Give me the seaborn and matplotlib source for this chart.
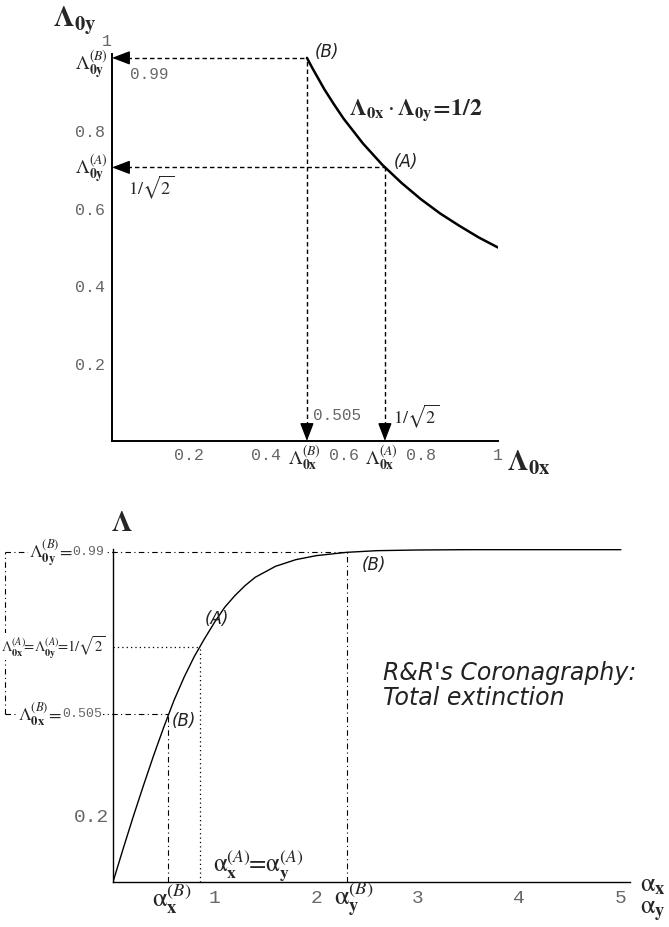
import matplotlib
matplotlib.use('Agg')
import matplotlib.pyplot as plt
import seaborn as sns
import numpy as np

# upper panel: hyperbola Lambda_0x * Lambda_0y = 1/2
lam0x = [0.505, 0.52, 0.55, 0.575, 0.6, 0.65, 0.7, 0.75, 0.8, 0.85, 0.9, 0.95, 1.0]
lam0y = [0.99, 0.962, 0.909, 0.87, 0.833, 0.769, 0.714, 0.667, 0.625, 0.588, 0.556, 0.526, 0.5]
point_A = (0.707, 0.707)
point_B = (0.505, 0.99)

# lower panel: total extinction Lambda vs alpha
alpha = [0, 0.1, 0.2, 0.3, 0.4, 0.5, 0.6, 0.7, 0.8, 0.9, 1.0, 1.1, 1.2, 1.3, 1.4,
         1.6, 1.8, 2.0, 2.3, 2.6, 3.0, 3.5, 4.0, 5.0]
lam = [0, 0.1, 0.197, 0.29, 0.38, 0.465, 0.545, 0.615, 0.677, 0.73, 0.78, 0.825, 0.86,
       0.89, 0.915, 0.948, 0.968, 0.98, 0.99, 0.995, 0.997, 0.998, 0.998, 0.998]
alpha_A = 0.858
alpha_Bx = 0.544
alpha_By = 2.30
lam_A = 0.707
lam_Bx = 0.505
lam_By = 0.99

sns.set_style('white')
plt.rcParams['mathtext.fontset'] = 'stix'
plt.rcParams['font.family'] = ['DejaVu Sans']

MONO = ['Liberation Mono', 'DejaVu Sans Mono']
SANS_IT = dict(family=['DejaVu Sans'], style='italic', color='#222222')
GRAY = '#666666'

W, H = 669, 927
fig = plt.figure(figsize=(W / 100, H / 100), dpi=100)


def px_axes(x0, x1, y0, y1):
    # axes box given in pixel coords (top-left origin)
    return fig.add_axes([x0 / W, 1 - y1 / H, (x1 - x0) / W, (y1 - y0) / H])


def style_axes(ax, lw):
    for s in ['top', 'right']:
        ax.spines[s].set_visible(False)
    for s in ['left', 'bottom']:
        ax.spines[s].set_linewidth(lw)
        ax.spines[s].set_color('black')
    ax.tick_params(which='both', direction='in', color='black', width=0.8)
    ax.grid(False)


# ---------------- upper panel ----------------
ax1 = px_axes(112, 498, 54, 441)
ax1.set_xlim(0, 1)
ax1.set_ylim(0, 1)
style_axes(ax1, 1.4)

sns.lineplot(x=lam0x, y=lam0y, ax=ax1, color='black', lw=1.8, sort=False, estimator=None)

ax1.set_xticks([0.2, 0.4, 0.6, 0.8, 1.0])
ax1.set_xticklabels(['0.2', '0.4', '0.6', '0.8', '1'])
ax1.set_yticks([0.2, 0.4, 0.6, 0.8, 1.0])
ax1.set_yticklabels(['0.2', '0.4', '0.6', '0.8', ''])
ax1.set_xticks(np.arange(0.05, 1.0, 0.05), minor=True)
ax1.set_yticks(np.arange(0.05, 1.0, 0.05), minor=True)
ax1.tick_params(which='major', length=4.5, pad=5)
ax1.tick_params(which='minor', length=2.5)
for lab in ax1.get_xticklabels() + ax1.get_yticklabels():
    lab.set_family(MONO)
    lab.set_color(GRAY)
    lab.set_fontsize(12)
ax1.text(-0.013, 1.033, '1', family=MONO, color=GRAY, fontsize=12, ha='center', va='center')

dash = (0, (3.2, 2.2))
for (px, py) in [point_B, point_A]:
    ax1.plot([0.04, px], [py, py], color='black', lw=1, ls=dash)
    ax1.plot([px, px], [0.04, py], color='black', lw=1, ls=dash)
    ax1.annotate('', xy=(0, py), xytext=(0.04, py), annotation_clip=False,
                 arrowprops=dict(arrowstyle='-|>,head_length=1.1,head_width=0.42',
                                 color='black', lw=1, shrinkA=0, shrinkB=0, mutation_scale=10))
    ax1.annotate('', xy=(px, 0), xytext=(px, 0.04), annotation_clip=False,
                 arrowprops=dict(arrowstyle='-|>,head_length=1.1,head_width=0.42',
                                 color='black', lw=1, shrinkA=0, shrinkB=0, mutation_scale=10))

kw = dict(clip_on=False)
ax1.text(-0.098, 1.088, r'$\mathbf{\Lambda_{0y}}$', fontsize=21, ha='center', va='center', **kw)
ax1.text(1.08, -0.057, r'$\mathbf{\Lambda_{0x}}$', fontsize=21, ha='center', va='center', **kw)
ax1.text(0.788, 0.855, r'$\mathbf{\Lambda_{0x}}\cdot\mathbf{\Lambda_{0y}\!=\!1/2}$', fontsize=17,
         ha='center', va='center', **kw)
ax1.text(0.558, 1.005, '(B)', fontsize=12, ha='center', va='center', **SANS_IT, **kw)
ax1.text(0.762, 0.721, '(A)', fontsize=12, ha='center', va='center', **SANS_IT, **kw)

ax1.text(-0.01, 0.972, r'$\Lambda^{\mathit{(B)}}_{\mathbf{0y}}$', fontsize=14, ha='right', va='center', **kw)
ax1.text(0.047, 0.946, '0.99', family=MONO, color=GRAY, fontsize=11.5, ha='left', va='center', **kw)
ax1.text(-0.01, 0.703, r'$\Lambda^{\mathit{(A)}}_{\mathbf{0y}}$', fontsize=14, ha='right', va='center', **kw)
ax1.text(0.041, 0.656, r'$1/\sqrt{2}$', fontsize=13, ha='left', va='center', **kw)
ax1.text(0.521, 0.067, '0.505', family=MONO, color=GRAY, fontsize=11.5, ha='left', va='center', **kw)
ax1.text(0.728, 0.065, r'$1/\sqrt{2}$', fontsize=13, ha='left', va='center', **kw)
ax1.text(0.498, -0.045, r'$\Lambda^{\mathit{(B)}}_{\mathbf{0x}}$', fontsize=14, ha='center', va='center', **kw)
ax1.text(0.697, -0.045, r'$\Lambda^{\mathit{(A)}}_{\mathbf{0x}}$', fontsize=14, ha='center', va='center', **kw)

# ---------------- lower panel ----------------
ax2 = px_axes(113, 630, 549, 882)
ax2.set_xlim(0, 5.09)
ax2.set_ylim(0, 1.0)
style_axes(ax2, 1.0)

sns.lineplot(x=alpha, y=lam, ax=ax2, color='black', lw=1.0, sort=False, estimator=None)

ax2.set_xticks([1, 2, 3, 4, 5])
ax2.set_xticklabels(['1', '2', '3', '4', '5'])
ax2.set_yticks([0.2])
ax2.set_yticklabels(['0.2'])
ax2.set_yticks(np.arange(0.05, 1.01, 0.05), minor=True)
ax2.tick_params(which='major', length=4, pad=6)
ax2.tick_params(which='minor', length=3.5)
ax2.tick_params(axis='y', which='major', pad=3)
for lab in ax2.get_xticklabels() + ax2.get_yticklabels():
    lab.set_family(MONO)
    lab.set_color(GRAY)
    lab.set_fontsize(14)

dashdot = (0, (5, 3, 1, 3))
dotted = (0, (1, 2.5))
x_left = -1.063
ax2.plot([x_left, alpha_By], [lam_By, lam_By], color='black', lw=0.8, ls=dashdot, clip_on=False)
ax2.plot([alpha_By, alpha_By], [0, lam_By], color='black', lw=0.8, ls=dashdot)
ax2.plot([x_left, alpha_Bx], [lam_Bx, lam_Bx], color='black', lw=0.8, ls=dashdot, clip_on=False)
ax2.plot([alpha_Bx, alpha_Bx], [0, lam_Bx], color='black', lw=0.8, ls=dashdot)
ax2.plot([x_left, x_left], [lam_Bx, lam_By], color='black', lw=0.8, ls=dashdot, clip_on=False)
ax2.plot([0, alpha_A], [lam_A, lam_A], color='black', lw=0.9, ls=dotted)
ax2.plot([alpha_A, alpha_A], [0, lam_A], color='black', lw=0.9, ls=dotted)

wb = dict(facecolor='white', edgecolor='none', pad=0.5)
ax2.text(0.09, 1.078, r'$\mathbf{\Lambda}$', fontsize=21, ha='center', va='center', **kw)
ax2.text(-0.40, 0.99, '0.99', family=MONO, color=GRAY, fontsize=9.5, ha='left', va='center',
         bbox=wb, **kw)
ax2.text(-0.40, 0.99, r'$\Lambda^{\mathit{(B)}}_{\mathbf{0y}}\!=$', fontsize=13, ha='right',
         va='center', bbox=wb, **kw)
ax2.text(-0.07, 0.707,
         r'$\Lambda^{\mathit{(A)}}_{\mathbf{0x}}\!\!=\!\Lambda^{\mathit{(A)}}_{\mathbf{0y}}\!\!=\!1/\sqrt{2}$',
         fontsize=10.5, ha='right', va='center', bbox=wb, **kw)
ax2.text(-0.50, 0.505, '0.505', family=MONO, color=GRAY, fontsize=9.5, ha='left', va='center',
         bbox=wb, **kw)
ax2.text(-0.50, 0.505, r'$\Lambda^{\mathit{(B)}}_{\mathbf{0x}}\!=$', fontsize=13, ha='right',
         va='center', bbox=wb, **kw)

ax2.text(2.45, 0.952, '(B)', fontsize=12, ha='left', va='center', **SANS_IT, **kw)
ax2.text(0.90, 0.79, '(A)', fontsize=12, ha='left', va='center', **SANS_IT, **kw)
ax2.text(0.58, 0.483, '(B)', fontsize=12, ha='left', va='center', **SANS_IT, **kw)
ax2.text(2.66, 0.59, "R&R's Coronagraphy:\nTotal extinction", fontsize=17, ha='left',
         va='center', linespacing=1.05, **SANS_IT, **kw)

ax2.text(0.58, -0.052, r'$\mathrm{\alpha}^{\mathit{(B)}}_{\mathbf{x}}$', fontsize=19, ha='center', va='center', **kw)
ax2.text(0.98, 0.048, r'$\mathrm{\alpha}^{\mathit{(A)}}_{\mathbf{x}}\!\!=\!\mathrm{\alpha}^{\mathit{(A)}}_{\mathbf{y}}$',
         fontsize=18, ha='left', va='center', **kw)
ax2.text(2.37, -0.052, r'$\mathrm{\alpha}^{\mathit{(B)}}_{\mathbf{y}}$', fontsize=19, ha='center', va='center', **kw)
ax2.text(5.19, -0.008, r'$\mathrm{\alpha}_{\mathbf{x}}$', fontsize=19, ha='left', va='center', **kw)
ax2.text(5.19, -0.088, r'$\mathrm{\alpha}_{\mathbf{y}}$', fontsize=19, ha='left', va='center', **kw)

fig.savefig('out.png', dpi=100)
